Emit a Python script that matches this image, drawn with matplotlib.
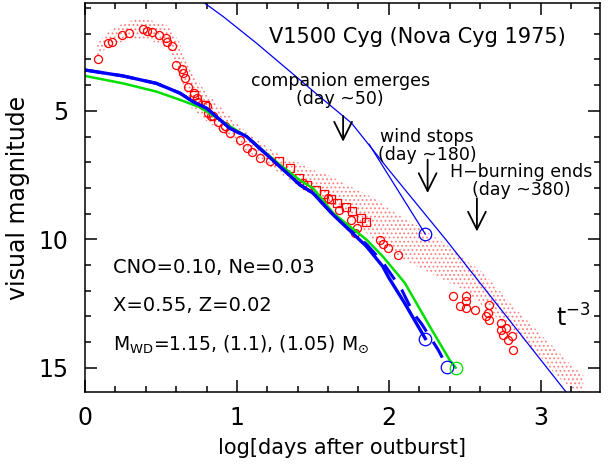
import numpy as np
import matplotlib
matplotlib.use("Agg")
import matplotlib.pyplot as plt

# ---------------- data ----------------
# observed circles (log t, V)
circ_x = [0.088, 0.153, 0.18, 0.245, 0.29, 0.384, 0.406, 0.44, 0.49, 0.53, 0.54, 0.57,
          0.60, 0.636, 0.647, 0.658, 0.68, 0.72, 0.735, 0.745, 0.80, 0.81, 0.83, 0.877, 0.92,
          0.84, 0.91, 0.954, 1.02, 1.064, 1.097, 1.15, 1.217,
          1.436, 1.60, 1.67, 1.75, 1.79, 1.78, 1.94, 1.96, 1.995, 2.06,
          2.42, 2.51, 2.51, 2.47, 2.51, 2.57, 2.66, 2.65, 2.64, 2.66, 2.74, 2.74, 2.77,
          2.75, 2.81, 2.785, 2.82]
circ_y = [2.99, 2.34, 2.31, 2.05, 1.98, 1.81, 1.89, 1.94, 2.05, 2.17, 2.31, 2.46,
          3.21, 3.38, 3.54, 3.73, 4.06, 4.31, 4.51, 4.64, 4.81, 5.09, 5.22, 5.42, 5.59,
          5.22, 5.68, 5.87, 6.13, 6.45, 6.59, 6.85, 6.97,
          7.8, 8.4, 8.85, 9.24, 9.57, 9.76, 10.02, 10.2, 10.35, 10.6,
          12.2, 12.23, 12.4, 12.6, 12.68, 12.75, 12.55, 12.87, 13.0, 13.13, 13.26, 13.52, 13.46,
          13.72, 13.78, 13.91, 14.3]
# observed squares
sq_x = [0.72, 0.79, 1.28, 1.35, 1.41, 1.46, 1.52, 1.57, 1.62, 1.66, 1.72, 1.76, 1.82, 1.85]
sq_y = [4.38, 4.77, 6.97, 7.23, 7.62, 7.90, 8.10, 8.25, 8.45, 8.60, 8.75, 8.90, 9.18, 9.31]

# band of individual visual estimates (upper / lower envelope)
band_x   = [0.08, 0.15, 0.25, 0.35, 0.45, 0.55, 0.62, 0.70, 0.80, 0.90, 1.00, 1.10, 1.20, 1.30,
            1.40, 1.50, 1.60, 1.70, 1.80, 1.90, 2.00, 2.10, 2.20, 2.30, 2.40, 2.50, 2.60, 2.70,
            2.80, 2.90, 3.00, 3.10, 3.20, 3.28]
band_top = [2.4, 1.9, 1.6, 1.4, 1.5, 1.7, 2.3, 3.5, 4.3, 4.9, 5.5, 6.0, 6.4, 6.8,
            7.0, 7.3, 7.5, 7.8, 8.1, 8.4, 8.8, 9.2, 9.5, 9.9, 10.3, 10.8, 11.2, 11.8,
            12.5, 13.1, 13.7, 14.3, 14.9, 15.3]
band_bot = [2.9, 2.5, 2.3, 2.2, 2.3, 2.6, 3.6, 4.9, 5.4, 5.8, 6.3, 6.7, 7.1, 7.5,
            7.9, 8.3, 8.6, 8.9, 9.5, 10.0, 10.4, 10.8, 11.1, 11.4, 11.7, 12.0, 12.5, 13.0,
            13.5, 14.0, 14.6, 15.3, 15.8, 16.0]

# model light curves
m115_x = [0.0, 0.25, 0.47, 0.625, 0.71, 0.80, 0.954, 1.064, 1.283, 1.414, 1.50, 1.634, 1.853, 1.96, 2.0, 2.10, 2.24]
m115_y = [3.41, 3.64, 3.93, 4.31, 4.64, 4.90, 5.68, 6.00, 7.17, 7.88, 8.20, 9.05, 10.28, 11.06, 11.5, 12.45, 13.87]
m110_x = [0.0, 0.25, 0.47, 0.625, 0.71, 0.80, 0.954, 1.064, 1.283, 1.414, 1.50, 1.634, 1.853, 1.96, 2.085, 2.16, 2.215, 2.324, 2.384]
m110_y = [3.41, 3.64, 3.93, 4.31, 4.64, 4.90, 5.68, 6.00, 7.17, 7.88, 8.20, 9.05, 10.2, 10.9, 11.97, 12.87, 13.29, 14.3, 14.97]
m105_x = [0.0, 0.25, 0.47, 0.625, 0.757, 0.976, 1.064, 1.283, 1.414, 1.50, 1.634, 1.853, 1.96, 2.07, 2.105, 2.27, 2.40, 2.44]
m105_y = [3.64, 3.93, 4.25, 4.57, 4.86, 5.68, 6.00, 7.10, 7.70, 8.01, 8.98, 10.02, 10.67, 11.45, 11.7, 13.4, 14.7, 15.0]

# companion / t^-3 line and wind-stop branch
tl_x = [0.74, 0.91, 1.13, 1.35, 1.57, 1.755, 2.0, 2.38, 2.8, 3.2]
tl_y = [0.6, 1.33, 2.37, 3.47, 4.57, 5.48, 7.3, 10.05, 13.2, 16.2]
ws_x = [1.87, 2.24]
ws_y = [6.30, 9.80]

# end points
end_blue_x = [2.24, 2.38]
end_blue_y = [13.87, 14.97]
end_green_x = [2.44]
end_green_y = [15.0]
ws_end_x = [2.24]
ws_end_y = [9.8]

# annotations: (label, day)
events = [("companion emerges\n(day ~50)", 50), ("wind stops\n(day ~180)", 180),
          ("H\u2212burning ends\n(day ~380)", 380)]

# ---------------- figure ----------------
fig = plt.figure(figsize=(6.15, 4.68), dpi=100)
ax = fig.add_axes([85/615, (468-392)/468, 515/615, 389/468])

plt.rcParams["hatch.linewidth"] = 0.8
red = "#ff0000"
ax.fill_between(band_x, band_top, band_bot, facecolor="none", edgecolor="#ff8080",
                hatch="....", linewidth=0)
ax.plot(circ_x, circ_y, "o", mfc="none", mec=red, ms=5.8, mew=0.9)
ax.plot(sq_x, sq_y, "s", mfc="none", mec=red, ms=5.8, mew=0.9)

ax.plot(tl_x, tl_y, color="#0000ff", lw=0.9)
ax.plot(ws_x, ws_y, color="#0000ff", lw=0.9)
ax.plot(m110_x, m110_y, color="#0000ff", lw=2.2, dashes=(6, 4))
ax.plot(m105_x, m105_y, color="#00e000", lw=1.8)
ax.plot(m115_x, m115_y, color="#0000ff", lw=2.4)

ax.plot(end_blue_x, end_blue_y, "o", mfc="none", mec="#0000ff", ms=9, mew=0.9)
ax.plot(ws_end_x, ws_end_y, "o", mfc="none", mec="#0000ff", ms=9, mew=0.9)
ax.plot(end_green_x, end_green_y, "o", mfc="none", mec="#00e000", ms=9, mew=0.9)

fs = 12.5
ax.text(2.19, 2.12, "V1500 Cyg (Nova Cyg 1975)", fontsize=15, ha="center", va="center")
txt_pos = [(1.68, 4.2, 5.2, 6.2), (2.25, 6.35, 6.9, 8.2), (2.87, 7.75, 8.4, 9.7)]
for (lab, day), (tx, ty, ay0, ay1) in zip(events, txt_pos):
    ax.text(tx, ty, lab, fontsize=fs, ha="center", va="center", linespacing=1.0)
    xd = np.log10(day)
    ax.annotate("", xy=(xd, ay1), xytext=(xd, ay0),
                arrowprops=dict(arrowstyle="->,head_length=0.8,head_width=0.4", lw=1.3,
                                color="k", mutation_scale=16, shrinkA=0, shrinkB=0))

ax.text(0.184, 11.1, "CNO=0.10, Ne=0.03", fontsize=14, va="center")
ax.text(0.184, 12.6, "X=0.55, Z=0.02", fontsize=14, va="center")
ax.text(0.184, 14.1, r"M$_{\rm WD}$=1.15, (1.1), (1.05) M$_{\odot}$", fontsize=13.5, va="center")
ax.text(3.1, 13.05, r"t$^{-3}$", fontsize=17, va="center")

ax.set_xlim(0, 3.39)
ax.set_ylim(15.95, 0.8)
ax.set_xticks([0, 1, 2, 3])
ax.set_xticks(np.arange(0, 3.4, 0.2), minor=True)
ax.set_yticks([5, 10, 15])
ax.set_yticks(np.arange(1, 16, 1), minor=True)
ax.tick_params(which="both", direction="in", top=True, right=True, width=1.1)
ax.tick_params(which="major", length=8.5, labelsize=17)
ax.tick_params(axis="x", which="major", pad=10)
ax.tick_params(axis="y", which="major", pad=12)
ax.tick_params(which="minor", length=4.3)
for s in ax.spines.values():
    s.set_linewidth(1.1)
ax.set_xlabel("log[days after outburst]", fontsize=15, labelpad=6)
ax.set_ylabel("visual magnitude", fontsize=17, labelpad=6)

fig.savefig("out.png", dpi=100)
